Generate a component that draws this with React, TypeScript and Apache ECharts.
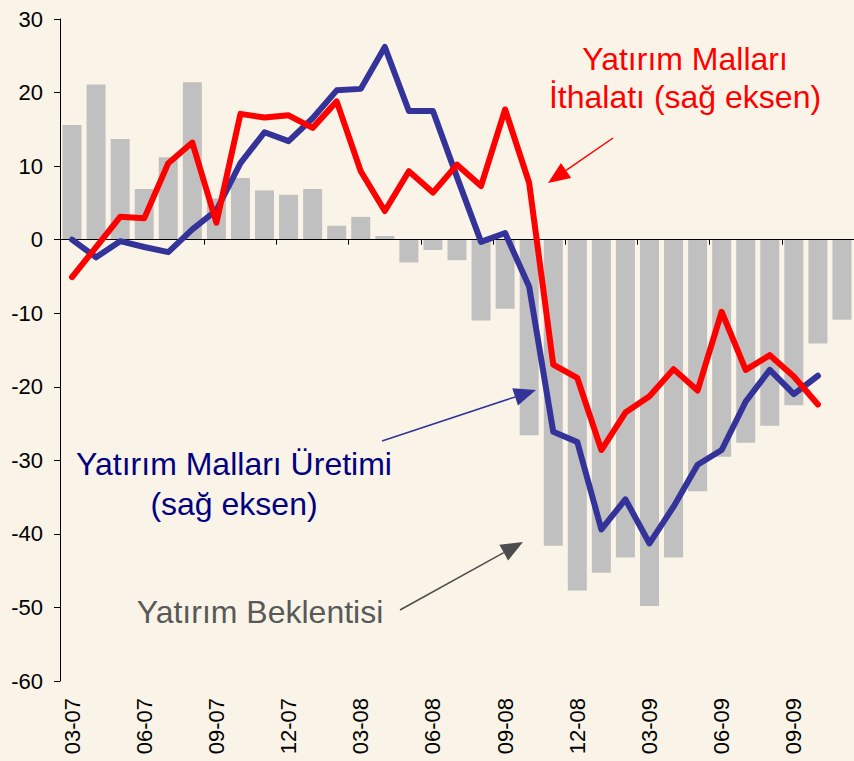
import React, { useEffect, useRef } from "react";
import * as echarts from "echarts";

const categories = [
  "03-07", "04-07", "05-07", "06-07", "07-07", "08-07", "09-07", "10-07", "11-07", "12-07",
  "01-08", "02-08", "03-08", "04-08", "05-08", "06-08", "07-08", "08-08", "09-08", "10-08",
  "11-08", "12-08", "01-09", "02-09", "03-09", "04-09", "05-09", "06-09", "07-09", "08-09",
  "09-09", "10-09", "11-09",
];

// Yatırım Beklentisi (bars)
const beklenti = [
  15.6, 21.1, 13.7, 6.9, 11.2, 21.4, 5.6, 8.4, 6.7, 6.1,
  6.9, 1.9, 3.1, 0.5, -3.1, -1.4, -2.8, -11.0, -9.4, -26.6,
  -41.6, -47.7, -45.3, -43.2, -49.8, -43.2, -34.2, -29.5, -27.6, -25.3,
  -22.5, -14.1, -10.9,
];

// Yatırım Malları Üretimi (blue)
const uretim = [
  0.0, -2.4, -0.2, -1.0, -1.7, 1.4, 4.0, 10.4, 14.6, 13.4,
  16.5, 20.3, 20.5, 26.2, 17.5, 17.5, 8.5, -0.3, 0.9, -6.4,
  -26.1, -27.5, -39.4, -35.3, -41.3, -36.3, -30.6, -28.6, -22.0, -17.7,
  -21.0, -18.5,
];

// Yatırım Malları İthalatı (red)
const ithalat = [
  -5.1, -1.0, 3.1, 2.9, 10.4, 13.2, 2.3, 17.1, 16.6, 16.9,
  15.2, 18.8, 9.3, 3.9, 9.3, 6.4, 10.2, 7.3, 17.7, 7.7,
  -17.0, -18.8, -28.6, -23.5, -21.3, -17.6, -20.5, -9.8, -17.7, -15.7,
  -18.6, -22.4,
];

const FONT = '"Liberation Sans", Arial, Helvetica, sans-serif';

function arrow(x1: number, y1: number, x2: number, y2: number, color: string) {
  const dx = x2 - x1;
  const dy = y2 - y1;
  const len = Math.sqrt(dx * dx + dy * dy);
  const ux = dx / len;
  const uy = dy / len;
  const L = 22;
  const W = 9;
  const bx = x2 - ux * L;
  const by = y2 - uy * L;
  return [
    {
      type: "line",
      shape: { x1, y1, x2: bx, y2: by },
      style: { stroke: color, lineWidth: 1.5 },
      z: 10,
    },
    {
      type: "polygon",
      shape: {
        points: [
          [x2, y2],
          [bx - uy * W, by + ux * W],
          [bx + uy * W, by - ux * W],
        ],
      },
      style: { fill: color },
      z: 10,
    },
  ];
}

export default function App() {
  const ref = useRef<HTMLDivElement>(null);

  useEffect(() => {
    if (!ref.current) return;
    const chart = echarts.init(ref.current, undefined, { renderer: "svg" });
    chart.setOption({
      animation: false,
      backgroundColor: "#FAF4E8",
      grid: { left: 60, top: 19, width: 797.6, height: 662 },
      xAxis: [
        {
          type: "category",
          data: categories,
          position: "bottom",
          z: 3,
          axisLine: { onZero: true, lineStyle: { color: "#000", width: 1.2 } },
          axisTick: {
            show: true,
            length: 5,
            lineStyle: { color: "#000" },
            interval: (i: number) => i >= 6 && i % 3 === 0,
          },
          axisLabel: { show: false },
          splitLine: { show: false },
        },
        {
          type: "category",
          data: categories,
          position: "bottom",
          axisLine: { show: false, onZero: false },
          axisTick: { show: false },
          axisLabel: {
            show: true,
            interval: 2,
            rotate: 90,
            margin: 17,
            fontSize: 22,
            color: "#000",
            fontFamily: FONT,
          },
          splitLine: { show: false },
        },
      ],
      yAxis: {
        type: "value",
        min: -60,
        max: 30,
        interval: 10,
        axisLine: { show: true, lineStyle: { color: "#000", width: 1 } },
        axisTick: { show: true, length: 6, inside: false, lineStyle: { color: "#000" } },
        axisLabel: { fontSize: 22, color: "#000", fontFamily: FONT, margin: 17 },
        splitLine: { show: false },
      },
      series: [
        {
          type: "bar",
          name: "Yatırım Beklentisi",
          data: beklenti,
          xAxisIndex: 0,
          barCategoryGap: "21%",
          itemStyle: { color: "#C0C0C0" },
          z: 1,
        },
        {
          type: "line",
          name: "Yatırım Malları Üretimi",
          data: uretim,
          xAxisIndex: 0,
          symbol: "none",
          lineStyle: { color: "#333399", width: 6, cap: "round", join: "round" },
          z: 4,
        },
        {
          type: "line",
          name: "Yatırım Malları İthalatı",
          data: ithalat,
          xAxisIndex: 0,
          symbol: "none",
          lineStyle: { color: "#FF0000", width: 6, cap: "round", join: "round" },
          z: 5,
        },
      ],
      graphic: [
        {
          type: "text",
          x: 685,
          y: 78,
          z: 10,
          style: {
            text: "Yatırım Malları\nİthalatı (sağ eksen)",
            fill: "#FF0000",
            fontSize: 32,
            fontFamily: FONT,
            align: "center",
            verticalAlign: "middle",
            lineHeight: 38,
          },
        },
        {
          type: "text",
          x: 234,
          y: 484,
          z: 10,
          style: {
            text: "Yatırım Malları Üretimi\n(sağ eksen)",
            fill: "#000080",
            fontSize: 32,
            fontFamily: FONT,
            align: "center",
            verticalAlign: "middle",
            lineHeight: 40,
          },
        },
        {
          type: "text",
          x: 260,
          y: 612,
          z: 10,
          style: {
            text: "Yatırım Beklentisi",
            fill: "#595959",
            fontSize: 32,
            fontFamily: FONT,
            align: "center",
            verticalAlign: "middle",
          },
        },
        ...arrow(613, 138, 548, 183, "#FF0000"),
        ...arrow(382, 441, 536, 390, "#333399"),
        ...arrow(400, 610, 523, 542, "#4D4D4D"),
      ],
    });
    return () => chart.dispose();
  }, []);

  return (
    <div
      ref={ref}
      style={{ position: "absolute", left: 0, top: 0, width: 854, height: 761 }}
    />
  );
}
